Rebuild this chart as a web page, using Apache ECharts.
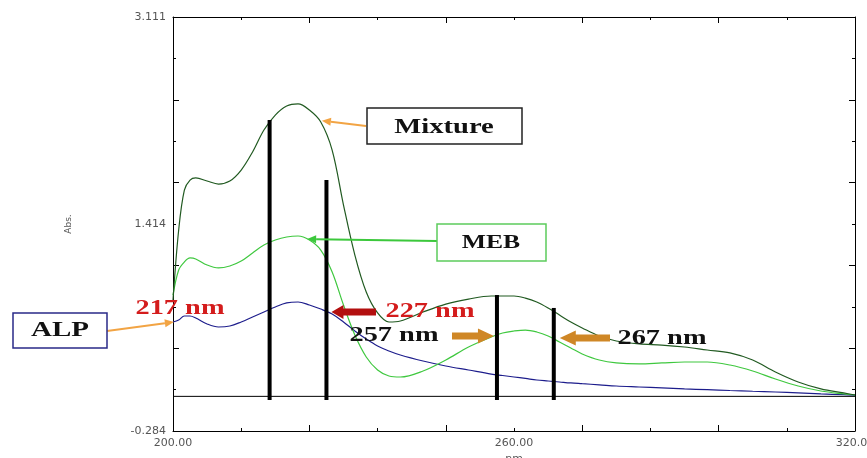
<!DOCTYPE html>
<html>
<head>
<meta charset="utf-8">
<script src="https://cdn.jsdelivr.net/npm/echarts@6/dist/echarts.min.js"></script>
<style>
  html, body { margin: 0; padding: 0; background: #fff; }
  #chart { width: 867px; height: 458px; }
</style>
</head>
<body>
<div id="chart"></div>
<script>
// Wavelength grid (nm) shared by the three absorption spectra
const wavelengths = [200,201,202,203,204,206,208,210,212,214,216,218,220,222,224,226,228,230,232,234,236,238,240,
  244,248,252,256,258,260,262,264,266,268,270,272,275,278,282,286,290,294,298,302,306,310,314,318,320];

// Absorbance of the mixture
const mixture = [0.79,1.364,1.692,1.774,1.791,1.766,1.741,1.766,1.856,2.004,2.184,2.307,2.381,2.398,2.348,2.25,2.02,1.569,1.159,0.856,0.684,0.61,0.618,
  0.692,0.757,0.798,0.823,0.823,0.823,0.806,0.774,0.725,0.667,0.61,0.561,0.495,0.454,0.43,0.421,0.405,0.38,0.356,0.298,0.2,0.118,0.061,0.028,0.011];

// Absorbance of MEB
const meb = [0.831,1.036,1.102,1.135,1.127,1.077,1.053,1.069,1.11,1.176,1.241,1.282,1.307,1.315,1.282,1.2,1.02,0.749,0.503,0.323,0.216,0.167,0.159,
  0.208,0.298,0.405,0.487,0.52,0.536,0.544,0.528,0.495,0.446,0.397,0.348,0.298,0.274,0.266,0.274,0.282,0.282,0.257,0.208,0.142,0.085,0.044,0.02,0.011];

// Absorbance of ALP
const alp = [0.61,0.626,0.659,0.659,0.643,0.594,0.569,0.577,0.61,0.651,0.692,0.733,0.766,0.774,0.749,0.716,0.675,0.61,0.536,0.47,0.413,0.372,0.339,
  0.29,0.249,0.216,0.183,0.171,0.159,0.147,0.134,0.126,0.118,0.11,0.104,0.095,0.085,0.077,0.069,0.061,0.055,0.048,0.042,0.036,0.028,0.02,0.014,0.011];

// Selected measuring wavelengths (vertical bars) and their heights
const markerNm = [217, 227, 257, 267];
const markerTop = [2.266, 1.774, 0.831, 0.725];
const markerBase = -0.03;

// Axis ranges and tick labels
const xRange = [200, 320];
const yRange = [-0.284, 3.111];
const xTickLabels = ['200.00', '260.00', '320.00'];
const yTickLabels = ['-0.284', '1.414', '3.111'];

const toPairs = (ys) => wavelengths.map((w, i) => [w, ys[i]]);

const frameColor = '#000';
const tickAxis = (pos) => ({
  type: 'value', min: 0, max: 10, interval: 2, position: pos,
  axisLine: { show: true, onZero: false, lineStyle: { color: frameColor, width: 1 } },
  axisTick: { show: true, inside: true, length: 6, lineStyle: { color: frameColor, width: 1 } },
  minorTick: { show: true, splitNumber: 2, length: 3, lineStyle: { color: frameColor, width: 1 } },
  axisLabel: { show: false },
  splitLine: { show: false },
  minorSplitLine: { show: false }
});

const labelFont = { fontFamily: 'DejaVu Sans', fontSize: 11, color: '#555' };

const option = {
  animation: false,
  backgroundColor: '#fff',
  grid: { left: 173, right: 12, top: 17, bottom: 27, containLabel: false, outerBoundsMode: 'none' },
  xAxis: [
    { type: 'value', min: xRange[0], max: xRange[1], show: false, axisLine: { onZero: false } },
    tickAxis('bottom'),
    tickAxis('top'),
    {
      type: 'value', min: 0, max: 10, interval: 5, position: 'bottom',
      axisLine: { show: false, onZero: false }, axisTick: { show: false }, splitLine: { show: false },
      axisLabel: Object.assign({ margin: 7, formatter: (v) => xTickLabels[Math.round(v / 5)] }, labelFont),
      name: 'nm', nameLocation: 'middle', nameGap: 20,
      nameTextStyle: { fontFamily: 'DejaVu Sans', fontSize: 11, color: '#555' }
    }
  ],
  yAxis: [
    { type: 'value', min: yRange[0], max: yRange[1], show: false, axisLine: { onZero: false } },
    tickAxis('left'),
    tickAxis('right'),
    {
      type: 'value', min: 0, max: 10, interval: 5, position: 'left',
      axisLine: { show: false, onZero: false }, axisTick: { show: false }, splitLine: { show: false },
      axisLabel: Object.assign({ margin: 7, formatter: (v) => yTickLabels[Math.round(v / 5)] }, labelFont),
      name: 'Abs.', nameLocation: 'middle', nameGap: 100,
      nameTextStyle: { fontFamily: 'DejaVu Sans', fontSize: 9, color: '#555' }
    }
  ],
  series: [
    {
      name: 'baseline', type: 'line', xAxisIndex: 0, yAxisIndex: 0, symbol: 'none',
      data: [[xRange[0], 0], [xRange[1], 0]],
      lineStyle: { color: '#000', width: 1 }, z: 1
    },
    {
      name: 'ALP', type: 'line', xAxisIndex: 0, yAxisIndex: 0, symbol: 'none', smooth: 0.35,
      data: toPairs(alp), lineStyle: { color: '#1d1d8c', width: 1.2 }, z: 2
    },
    {
      name: 'MEB', type: 'line', xAxisIndex: 0, yAxisIndex: 0, symbol: 'none', smooth: 0.35,
      data: toPairs(meb), lineStyle: { color: '#3fc83f', width: 1.2 }, z: 3
    },
    {
      name: 'Mixture', type: 'line', xAxisIndex: 0, yAxisIndex: 0, symbol: 'none', smooth: 0.35,
      data: toPairs(mixture), lineStyle: { color: '#215a21', width: 1.2 }, z: 4
    },
    {
      name: 'wavelengths', type: 'custom', xAxisIndex: 0, yAxisIndex: 0, z: 5,
      encode: { x: 0, y: [1, 2] },
      data: markerNm.map((w, i) => [w, markerTop[i], markerBase]),
      renderItem: (params, api) => {
        const top = api.coord([api.value(0), api.value(1)]);
        const bot = api.coord([api.value(0), api.value(2)]);
        return {
          type: 'rect',
          shape: { x: top[0] - 2, y: top[1], width: 4, height: bot[1] - top[1] },
          style: { fill: '#000' }
        };
      }
    }
  ]
};

const chart = echarts.init(document.getElementById('chart'), null, { renderer: 'canvas' });
chart.setOption(option);

// ---- annotations -------------------------------------------------------
const px = (nm, v) => chart.convertToPixel({ xAxisIndex: 0, yAxisIndex: 0 }, [nm, v]);

function thinArrow(x1, y1, x2, y2, color) {
  const ang = Math.atan2(y2 - y1, x2 - x1);
  const hl = 9, hw = 4;
  const bx = x2 - hl * Math.cos(ang), by = y2 - hl * Math.sin(ang);
  const nx = -Math.sin(ang) * hw, ny = Math.cos(ang) * hw;
  return [
    { type: 'line', z: 20, shape: { x1, y1, x2: bx, y2: by }, style: { stroke: color, lineWidth: 2 } },
    { type: 'polygon', z: 20, shape: { points: [[x2, y2], [bx + nx, by + ny], [bx - nx, by - ny]] }, style: { fill: color } }
  ];
}

function blockArrow(tailX, tipX, y, color, shaftHalf, headHalf, headLen) {
  const d = tipX > tailX ? 1 : -1;
  const hx = tipX - d * headLen;
  return {
    type: 'polygon', z: 20,
    shape: { points: [[tipX, y], [hx, y - headHalf], [hx, y - shaftHalf], [tailX, y - shaftHalf],
                      [tailX, y + shaftHalf], [hx, y + shaftHalf], [hx, y + headHalf]] },
    style: { fill: color }
  };
}

function label(text, x, y, size, sx, color, align) {
  return {
    type: 'text', z: 30, x, y, scaleX: sx,
    style: { text, font: 'bold ' + size + 'px "Liberation Serif"', fill: color,
             align: align || 'center', verticalAlign: 'middle' }
  };
}

function box(x, y, w, h, stroke) {
  return { type: 'rect', z: 25, shape: { x, y, width: w, height: h },
           style: { fill: '#fff', stroke, lineWidth: 1.5 } };
}

const barX = markerNm.map((w) => px(w, 0)[0]);
const mixTip = px(226.2, 2.26);
const mebTip = px(223.6, 1.29);
const alpTip = px(200.15, 0.61);

const graphics = [].concat(
  thinArrow(366, 126, mixTip[0], mixTip[1], '#f2a444'),
  [box(367, 108, 155, 36, '#222'), label('Mixture', 444, 127, 22, 1.3, '#111')],
  thinArrow(437, 241, mebTip[0], mebTip[1], '#3cc83c'),
  [box(437, 224, 109, 37, '#5ccc5c'), label('MEB', 491, 243, 19, 1.35, '#111')],
  thinArrow(107, 331, alpTip[0], alpTip[1], '#f2a444'),
  [box(13, 313, 94, 35, '#2a2a88'), label('ALP', 60, 331, 20, 1.45, '#111')],
  [label('217 nm', 180, 309, 21, 1.35, '#d41c1c')],
  [blockArrow(376, barX[1] + 5, 312, '#b30f0f', 3.5, 7, 12), label('227 nm', 430, 312, 21, 1.35, '#d41c1c')],
  [blockArrow(452, barX[2] - 3, 336, '#cf8726', 3.5, 7.5, 16), label('257 nm', 394, 336, 21, 1.35, '#111')],
  [blockArrow(610, barX[3] + 6, 338, '#cf8726', 3.5, 7.5, 16), label('267 nm', 662, 339, 21, 1.35, '#111')]
);

chart.setOption({ graphic: graphics });
</script>
</body>
</html>
